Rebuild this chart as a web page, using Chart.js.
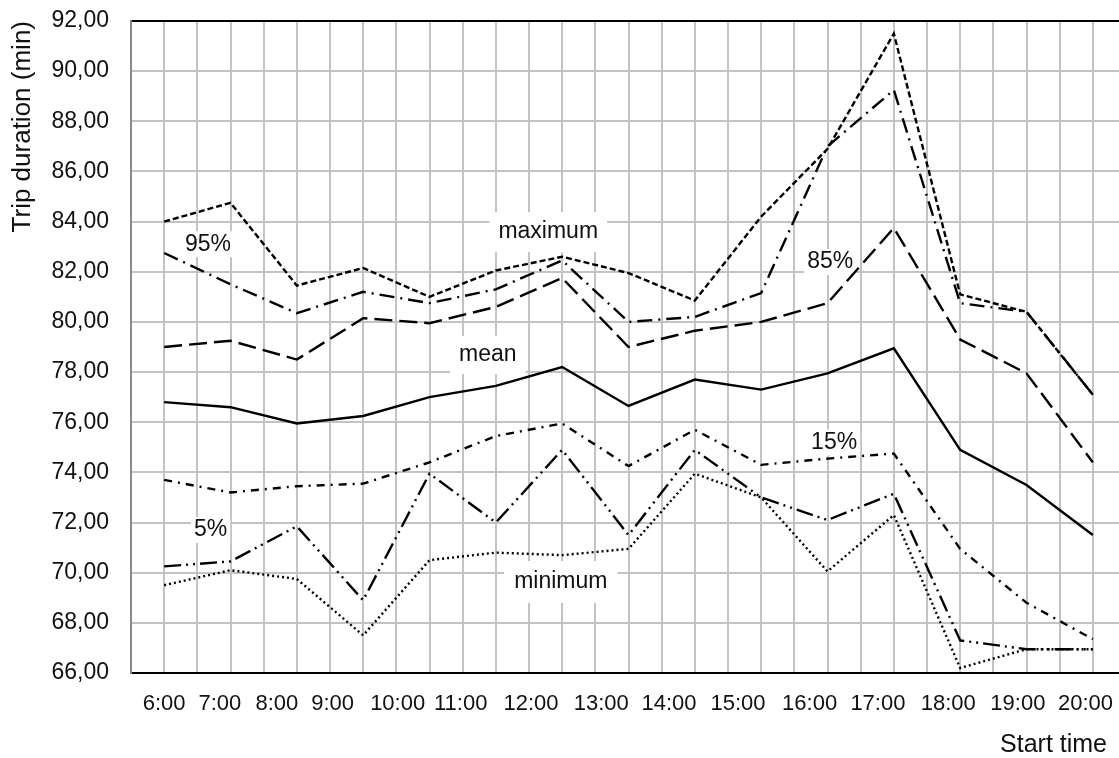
<!DOCTYPE html>
<html>
<head>
<meta charset="utf-8">
<script src="https://cdn.jsdelivr.net/npm/chart.js@4"></script>
<style>
  html, body { margin: 0; padding: 0; background: #fff; overflow: hidden; }
  #wrap { width: 1126px; height: 758px; }
</style>
</head>
<body>
<div id="wrap"><canvas id="chart" width="1126" height="758"></canvas></div>
<script>
// start hours of the trips
const hours = [6, 7, 8, 9, 10, 11, 12, 13, 14, 15, 16, 17, 18, 19, 20];

// x labels (they sit a bit off the data columns in the original)
const tickLabels = ['6:00', '7:00', '8:00', '9:00', '10:00', '11:00', '12:00', '13:00',
  '14:00', '15:00', '16:00', '17:00', '18:00', '19:00', '20:00'];
const tickHours = [6.0, 6.84, 7.70, 8.54, 9.52, 10.47, 11.53, 12.59, 13.61, 14.65,
  15.73, 16.76, 17.82, 18.87, 19.89];

// trip duration (min)
const maximum = [84.0, 84.75, 81.45, 82.15, 81.0, 82.05, 82.6, 81.95, 80.85, 84.2, 86.9, 91.5, 81.1, 80.4, 77.1];
const p95 = [82.75, 81.5, 80.35, 81.2, 80.75, 81.3, 82.45, 80.0, 80.2, 81.15, 87.0, 89.25, 80.75, 80.4, 77.1];
const p85 = [79.0, 79.25, 78.5, 80.15, 79.95, 80.6, 81.75, 79.0, 79.65, 80.0, 80.75, 83.75, 79.3, 77.95, 74.4];
const mean = [76.8, 76.6, 75.95, 76.25, 77.0, 77.45, 78.2, 76.65, 77.7, 77.3, 77.95, 78.95, 74.9, 73.5, 71.5];
const p15 = [73.7, 73.2, 73.45, 73.55, 74.4, 75.45, 75.95, 74.25, 75.7, 74.3, 74.55, 74.75, 70.95, 68.8, 67.35];
const p5 = [70.25, 70.45, 71.85, 68.9, 73.95, 72.0, 74.9, 71.5, 74.9, 73.0, 72.1, 73.15, 67.3, 66.95, 66.95];
const minimum = [69.5, 70.1, 69.75, 67.5, 70.5, 70.8, 70.7, 70.95, 73.95, 73.0, 70.05, 72.3, 66.2, 66.95, 66.95];

// in-plot labels
const notes = [
  { text: '95%', x: 6.66, y: 83.1, px: 3, py: 2 },
  { text: 'maximum', x: 11.79, y: 83.58, px: 9, py: 9 },
  { text: 'mean', x: 10.88, y: 78.68, px: 9, py: 8 },
  { text: '85%', x: 16.04, y: 82.39, px: 3, py: 2 },
  { text: '15%', x: 16.10, y: 75.19, px: 3, py: 2 },
  { text: '5%', x: 6.70, y: 71.70, px: 3, py: 2 },
  { text: 'minimum', x: 11.98, y: 69.63, px: 10, py: 10 }
];

const FONT = '"Liberation Sans", Arial, sans-serif';

function series(label, values, dash) {
  return {
    label: label,
    data: values.map((v, i) => ({ x: hours[i], y: v })),
    borderColor: '#000',
    borderWidth: 2.4,
    borderDash: dash,
    pointRadius: 0,
    fill: false,
    tension: 0
  };
}

const notesPlugin = {
  id: 'notes',
  beforeDatasetsDraw(chart) {
    const ctx = chart.ctx;
    const xs = chart.scales.x, ys = chart.scales.y;
    ctx.save();
    ctx.font = '23px ' + FONT;
    ctx.textAlign = 'center';
    ctx.textBaseline = 'middle';
    notes.forEach(n => {
      const cx = xs.getPixelForValue(n.x);
      const cy = ys.getPixelForValue(n.y);
      const w = ctx.measureText(n.text).width;
      ctx.fillStyle = '#fff';
      ctx.fillRect(cx - w / 2 - n.px, cy - 11 - n.py, w + 2 * n.px, 22 + 2 * n.py);
      ctx.fillStyle = '#111';
      ctx.fillText(n.text, cx, cy);
    });
    ctx.restore();
  },
  afterDraw(chart) {
    const ctx = chart.ctx;
    const a = chart.chartArea;
    ctx.save();
    ctx.font = '25px ' + FONT;
    ctx.fillStyle = '#111';
    ctx.textAlign = 'right';
    ctx.textBaseline = 'middle';
    ctx.fillText('Start time', a.right - 19, a.bottom + 72);
    ctx.restore();
  }
};

const gridHours = [];
for (let h = 5.5; h <= 20.5; h += 0.5) gridHours.push(h);

new Chart(document.getElementById('chart'), {
  type: 'line',
  data: {
    datasets: [
      series('maximum', maximum, [6, 3]),
      series('95%', p95, [15, 6, 2, 6]),
      series('85%', p85, [18, 7]),
      series('mean', mean, []),
      series('15%', p15, [8, 6, 2, 6]),
      series('5%', p5, [17, 5, 2, 5, 2, 5]),
      series('minimum', minimum, [2, 3])
    ]
  },
  options: {
    responsive: false,
    animation: false,
    layout: { padding: { top: 21, right: 0, bottom: 0, left: 0 } },
    plugins: {
      legend: { display: false },
      tooltip: { enabled: false }
    },
    scales: {
      x: {
        type: 'linear',
        min: 5.5,
        max: 20.5,
        afterBuildTicks(axis) {
          const t = gridHours.map(v => ({ value: v, grid: true }))
            .concat(tickHours.map((v, i) => ({ value: v, text: tickLabels[i] })));
          t.sort((a, b) => a.value - b.value);
          axis.ticks = t;
        },
        afterFit(scale) {
          scale.height = 85;
          scale.paddingLeft = 0;
          scale.paddingRight = 0;
        },
        ticks: {
          autoSkip: false,
          maxRotation: 0,
          padding: 18,
          color: '#111',
          font: { family: FONT, size: 22 },
          callback: (v, i, ticks) => ticks[i].text || ''
        },
        grid: {
          drawTicks: false,
          color: c => (c.tick && c.tick.grid) ? '#c3c3c3' : 'rgba(0,0,0,0)',
          lineWidth: 2
        },
        border: { color: '#000', width: 2 }
      },
      y: {
        min: 66,
        max: 92,
        afterFit(scale) {
          scale.width = 131;
          scale.paddingTop = 0;
          scale.paddingBottom = 0;
        },
        ticks: {
          stepSize: 2,
          padding: 22,
          color: '#111',
          font: { family: FONT, size: 23 },
          callback: v => v.toFixed(2).replace('.', ',')
        },
        grid: {
          drawTicks: false,
          color: c => (c.tick && c.tick.value === 92) ? '#000' : '#c3c3c3',
          lineWidth: 2
        },
        border: { color: '#8a8a8a', width: 2 },
        title: {
          display: true,
          text: 'Trip duration (min)',
          align: 'end',
          color: '#111',
          font: { family: FONT, size: 26 },
          padding: { top: 7, bottom: 4 }
        }
      }
    }
  },
  plugins: [notesPlugin]
});
</script>
</body>
</html>
